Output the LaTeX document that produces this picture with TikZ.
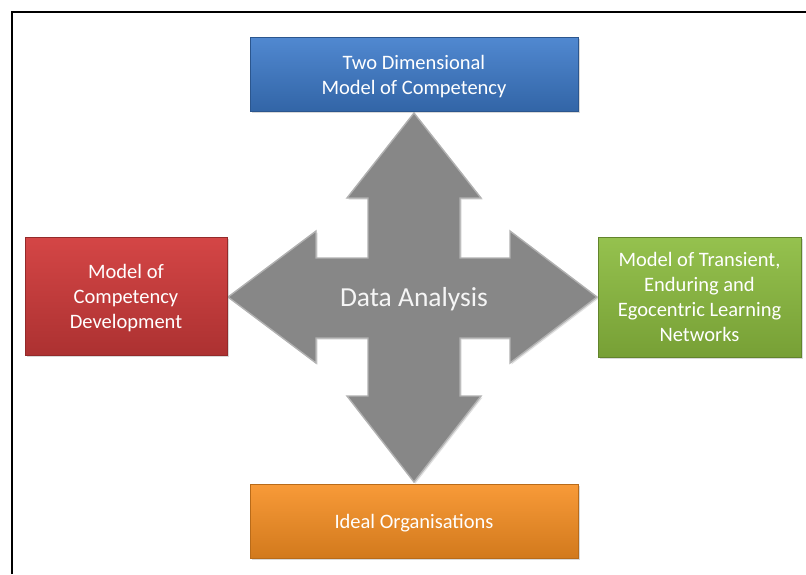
\documentclass[tikz,border=0pt]{standalone}
\usepackage{fontspec}
\setmainfont{Carlito}
\usepackage{xcolor}
\usepackage{tikz}
\usetikzlibrary{shadows}

\definecolor{boxblue}{HTML}{3D7BCB}
\definecolor{boxred}{HTML}{D23C3C}
\definecolor{boxgreen}{HTML}{8CBC3F}
\definecolor{boxorange}{HTML}{F78F22}
\definecolor{crossgray}{HTML}{878787}

\begin{document}
\begin{tikzpicture}[
  x=1pt, y=-1pt,
  font=\fontsize{20.5}{25}\selectfont,
  box/.style={align=center, text=white, inner sep=0pt, outer sep=0pt, text depth=-3pt,
    drop shadow={opacity=0.3, shadow xshift=1.5pt, shadow yshift=-1.5pt}},
  blue box/.style={box, top color=boxblue!90!white, bottom color=boxblue!82!black, draw=boxblue!70!black},
  red box/.style={box, top color=boxred!95!white, bottom color=boxred!82!black, draw=boxred!70!black},
  green box/.style={box, top color=boxgreen!92!white, bottom color=boxgreen!85!black, draw=boxgreen!70!black},
  orange box/.style={box, top color=boxorange!90!white, bottom color=boxorange!85!black, draw=boxorange!75!black},
  cross/.style={fill=crossgray, draw=crossgray!65!white, line width=1.4pt, line join=miter,
    drop shadow={opacity=0.25, shadow xshift=1.5pt, shadow yshift=-1.5pt}}
]
\useasboundingbox (0,0) rectangle (806,574);
\draw[line width=1.6pt] (12,574) -- (12,12) -- (806,12);

% four-way arrow
\draw[cross] (414,113) -- (481,198) -- (460,198) -- (460,258) -- (510,258) -- (510,231)
  -- (597,297) -- (510,363) -- (510,338) -- (460,338) -- (460,396) -- (481,396)
  -- (414,482) -- (347,396) -- (368,396) -- (368,338) -- (316,338) -- (316,363)
  -- (228,297) -- (316,231) -- (316,258) -- (368,258) -- (368,198) -- (347,198) -- cycle;
\node[text=white!92!gray, font=\fontsize{27.5}{32}\selectfont] (analysis) at (414,299.5) {Data Analysis};

\node[blue box, minimum width=328pt, minimum height=74pt] (twodim) at (414,74.5)
  {Two Dimensional\\Model of Competency};
\node[red box, minimum width=202pt, minimum height=118pt] (devel) at (126,296)
  {Model of\\Competency\\Development};
\node[green box, minimum width=203pt, minimum height=120pt] (networks) at (699.5,297)
  {Model of Transient,\\Enduring and\\Egocentric Learning\\Networks};
\node[orange box, minimum width=328pt, minimum height=74pt] (ideal) at (414,521)
  {Ideal Organisations};
\end{tikzpicture}
\end{document}
